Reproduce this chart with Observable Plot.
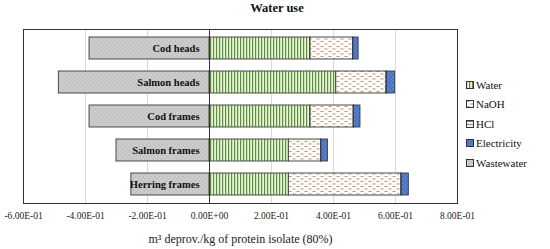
<!DOCTYPE html>
<html><head><meta charset="utf-8">
<script src="https://cdn.jsdelivr.net/npm/d3@7"></script>
<script src="https://cdn.jsdelivr.net/npm/@observablehq/plot@0.6"></script>
<style>
body{margin:0;background:#fff;font-family:"Liberation Serif",serif;color:#111;}
#wrap{position:relative;width:550px;height:249px;overflow:hidden;}
#title{position:absolute;left:245px;width:64px;top:1px;text-align:center;font-weight:bold;font-size:12.5px;white-space:nowrap;}
#legend{position:absolute;left:466px;top:75px;font-size:11px;}
.item{height:19.5px;display:flex;align-items:center;white-space:nowrap;}
.item svg{margin-right:2px;}
#chart{position:absolute;left:0;top:0;}
</style></head><body>
<svg width="0" height="0" style="position:absolute">
<defs>
<pattern id="pWater" width="3" height="4" patternUnits="userSpaceOnUse"><rect width="3" height="4" fill="#e6f5d8"/><rect x="0" width="1.2" height="4" fill="#5f8f3e"/></pattern>
<pattern id="pNaOH" width="8" height="5" patternUnits="userSpaceOnUse"><rect width="8" height="5" fill="#fdf9f4"/><rect x="0.5" y="1" width="3" height="0.9" fill="#a88f80"/><rect x="4.5" y="3.5" width="3" height="0.9" fill="#a88f80"/></pattern>
<pattern id="pHCl" width="4" height="3" patternUnits="userSpaceOnUse"><rect width="4" height="3" fill="#f4f4f4"/><rect y="1" width="4" height="0.9" fill="#7a7a7a"/></pattern>
<pattern id="pElectricity" width="4" height="4" patternUnits="userSpaceOnUse"><rect width="4" height="4" fill="#4472c4"/><circle cx="1" cy="1" r="0.55" fill="#9fb8e6"/><circle cx="3" cy="3" r="0.55" fill="#9fb8e6"/></pattern>
<pattern id="pWastewater" width="4" height="4" patternUnits="userSpaceOnUse"><rect width="4" height="4" fill="#c4c4c4"/><circle cx="1" cy="1" r="0.55" fill="#ececec"/><circle cx="3" cy="3" r="0.55" fill="#ececec"/></pattern>
</defs></svg>
<div id="wrap"><div id="chart"></div><div id="title">Water use</div><div id="legend"></div></div>
<script>
const categories = ["Cod heads","Salmon heads","Cod frames","Salmon frames","Herring frames"];
const series = ["Water","NaOH","HCl","Electricity","Wastewater"];
const water = [0.326,0.409,0.326,0.256,0.256];
const naoh = [0.137,0.162,0.139,0.104,0.363];
const hcl = [0.001,0.001,0.001,0.001,0.001];
const electricity = [0.017,0.027,0.021,0.021,0.023];
const wastewater = [-0.387,-0.486,-0.387,-0.300,-0.252];
const xTicks = [-0.6,-0.4,-0.2,0,0.2,0.4,0.6,0.8];
const gridTicks = [-0.4,-0.2,0.2,0.4,0.6,0.8];
const axisTitle = "m³ deprov./kg of protein isolate (80%)";

const valuesBySeries = {Water: water, NaOH: naoh, HCl: hcl, Electricity: electricity, Wastewater: wastewater};
const rows = [];
categories.forEach((c, i) => series.forEach(s => rows.push({cat: c, s, v: valuesBySeries[s][i]})));

const fmt = d => d.toExponential(2).toUpperCase().replace(/E([+-])(\d)$/, "E$10$2");

const chart = Plot.plot({
  width: 550, height: 249,
  marginTop: 29, marginBottom: 46, marginLeft: 23, marginRight: 93,
  style: {fontFamily: "Liberation Serif, serif", fontSize: "9.5px", color: "#222", background: "transparent"},
  x: {domain: [-0.6, 0.8], ticks: xTicks, tickFormat: fmt, tickSize: 0, tickPadding: 9,
      label: axisTitle, labelAnchor: "center", labelArrow: "none", labelOffset: 39},
  y: {domain: categories, axis: null, paddingInner: 0.34, paddingOuter: 0.17},
  color: {domain: series, range: series.map(s => `url(#p${s})`)},
  marks: [
    Plot.ruleX(gridTicks, {stroke: "#d9d9d9", strokeWidth: 1}),
    Plot.barX(rows, {x: "v", y: "cat", fill: "s", stroke: "#3a3a3a", strokeWidth: 0.9}),
    Plot.ruleX([0], {stroke: "#333", strokeWidth: 1}),
    Plot.frame({stroke: "#333", strokeWidth: 1}),
    Plot.text(categories, {x: 0, y: d => d, text: d => d, textAnchor: "end", dx: -10,
      fontWeight: "bold", fontSize: 10.5, fill: "#111"})
  ]
});
chart.querySelectorAll("g[aria-label='x-axis label'] text").forEach(t => t.style.fontSize = "12px");
document.getElementById("chart").appendChild(chart);

const legend = document.getElementById("legend");
series.forEach(s => {
  const div = document.createElement("div");
  div.className = "item";
  div.innerHTML = `<svg width="8" height="8"><rect x="0.5" y="0.5" width="7" height="7" fill="url(#p${s})" stroke="#333" stroke-width="1"/></svg><span>${s}</span>`;
  legend.appendChild(div);
});
</script>
</body></html>
